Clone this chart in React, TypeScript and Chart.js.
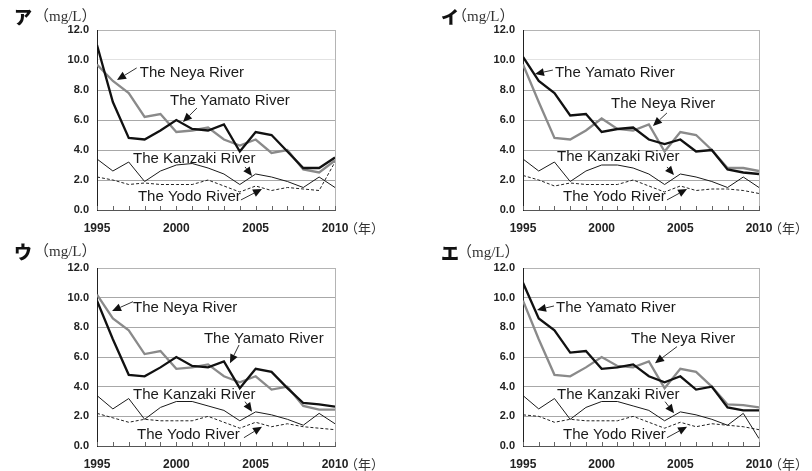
import React, { useEffect, useRef } from "react";
import { Chart, registerables } from "chart.js";
Chart.register(...registerables);

// ---- data ----
const years = [1995, 1996, 1997, 1998, 1999, 2000, 2001, 2002, 2003, 2004, 2005, 2006, 2007, 2008, 2009, 2010];
const yTickValues = [0, 2, 4, 6, 8, 10, 12];
const xLabelYears = [1995, 2000, 2005, 2010];

// Panel ア
const yamatoA = [11.0, 7.2, 4.8, 4.7, 5.3, 6.0, 5.4, 5.3, 5.7, 3.9, 5.2, 5.0, 3.9, 2.8, 2.8, 3.5];
const neyaA = [9.7, 8.6, 7.8, 6.2, 6.4, 5.2, 5.3, 5.5, 4.7, 4.3, 4.7, 3.8, 4.0, 2.7, 2.5, 3.3];
const kanzakiA = [3.4, 2.6, 3.2, 1.9, 2.6, 3.0, 3.1, 2.8, 2.4, 1.7, 2.4, 2.2, 1.9, 1.5, 2.2, 1.5];
const yodoA = [2.2, 2.0, 1.7, 1.8, 1.7, 1.7, 1.7, 2.0, 1.6, 1.2, 1.6, 1.3, 1.5, 1.4, 1.3, 3.2];
// Panel イ
const yamatoB = [10.2, 8.6, 7.8, 6.3, 6.4, 5.2, 5.4, 5.5, 4.7, 4.4, 4.7, 3.9, 4.0, 2.7, 2.5, 2.4];
const neyaB = [9.7, 7.2, 4.8, 4.7, 5.3, 6.1, 5.4, 5.3, 5.7, 3.9, 5.2, 5.0, 4.0, 2.8, 2.8, 2.6];
const kanzakiB = [3.4, 2.6, 3.2, 1.9, 2.6, 3.0, 3.0, 2.8, 2.4, 1.7, 2.4, 2.2, 1.9, 1.5, 2.2, 1.5];
const yodoB = [2.3, 2.0, 1.6, 1.8, 1.7, 1.7, 1.7, 2.0, 1.6, 1.2, 1.6, 1.3, 1.4, 1.4, 1.3, 1.1];
// Panel ウ
const yamatoC = [9.8, 7.2, 4.8, 4.7, 5.3, 6.0, 5.4, 5.3, 5.7, 3.9, 5.2, 5.0, 3.9, 2.9, 2.8, 2.65];
const neyaC = [10.2, 8.6, 7.8, 6.2, 6.4, 5.2, 5.3, 5.5, 4.7, 4.3, 4.7, 3.8, 4.0, 2.7, 2.45, 2.45];
const kanzakiC = [3.4, 2.5, 3.2, 1.8, 2.6, 3.0, 3.0, 2.7, 2.4, 1.7, 2.3, 2.1, 1.8, 1.4, 2.2, 1.5];
const yodoC = [2.2, 1.9, 1.6, 1.8, 1.7, 1.7, 1.7, 2.0, 1.6, 1.2, 1.6, 1.3, 1.5, 1.3, 1.2, 1.1];
// Panel エ
const yamatoD = [11.0, 8.6, 7.8, 6.3, 6.4, 5.2, 5.3, 5.5, 4.7, 4.3, 4.7, 3.8, 4.0, 2.6, 2.4, 2.4];
const neyaD = [9.8, 7.2, 4.8, 4.7, 5.3, 6.0, 5.4, 5.3, 5.7, 3.9, 5.2, 5.0, 4.0, 2.8, 2.75, 2.6];
const kanzakiD = [3.4, 2.5, 3.2, 1.8, 2.6, 3.0, 3.0, 2.7, 2.4, 1.7, 2.3, 2.1, 1.8, 1.4, 2.2, 0.5];
const yodoD = [2.1, 2.0, 1.6, 1.8, 1.7, 1.7, 1.7, 2.0, 1.6, 1.2, 1.6, 1.3, 1.5, 1.4, 1.3, 1.1];

const NEYA = "The Neya River";
const YAMATO = "The Yamato River";
const KANZAKI = "The Kanzaki River";
const YODO = "The Yodo River";

type Ann = { text: string; tx: number; ty: number; from: [number, number]; to: [number, number] };

const annsA: Ann[] = [
  { text: NEYA, tx: 1997.7, ty: 9.13, from: [1997.5, 9.47], to: [1996.26, 8.67] },
  { text: YAMATO, tx: 1999.6, ty: 7.27, from: [2001.3, 6.8], to: [2000.42, 5.87] },
  { text: KANZAKI, tx: 1997.27, ty: 3.4, from: [2004.33, 2.87], to: [2004.77, 2.27] },
  { text: YODO, tx: 1997.58, ty: 0.87, from: [2004.07, 0.67], to: [2005.4, 1.4] },
];
const annsB: Ann[] = [
  { text: YAMATO, tx: 1997.03, ty: 9.13, from: [1996.9, 9.33], to: [1995.76, 9.07] },
  { text: NEYA, tx: 2000.6, ty: 7.07, from: [2004.15, 6.47], to: [2003.26, 5.6] },
  { text: KANZAKI, tx: 1997.16, ty: 3.53, from: [2004.15, 2.87], to: [2004.6, 2.33] },
  { text: YODO, tx: 1997.54, ty: 0.87, from: [2004.15, 0.67], to: [2005.43, 1.4] },
];
const annsC: Ann[] = [
  { text: NEYA, tx: 1997.27, ty: 9.33, from: [1997.27, 9.73], to: [1995.95, 9.1] },
  { text: YAMATO, tx: 2001.74, ty: 7.21, from: [2003.95, 6.81], to: [2003.38, 5.58] },
  { text: KANZAKI, tx: 1997.27, ty: 3.48, from: [2004.33, 2.99], to: [2004.77, 2.31] },
  { text: YODO, tx: 1997.52, ty: 0.74, from: [2004.26, 0.56], to: [2005.4, 1.3] },
];
const annsD: Ann[] = [
  { text: YAMATO, tx: 1997.1, ty: 9.33, from: [1996.97, 9.44], to: [1995.89, 9.17] },
  { text: NEYA, tx: 2001.87, ty: 7.21, from: [2004.79, 6.7], to: [2003.39, 5.58] },
  { text: KANZAKI, tx: 1997.16, ty: 3.48, from: [2004.03, 2.99], to: [2004.6, 2.2] },
  { text: YODO, tx: 1997.54, ty: 0.74, from: [2004.15, 0.56], to: [2005.43, 1.3] },
];

type PanelCfg = {
  mark: string;
  left: number; top: number; w: number; h: number;
  plot: { l: number; t: number; r: number; b: number };
  markX: number; unitX: number; titleY: number;
  yamato: number[]; neya: number[]; kanzaki: number[]; yodo: number[];
  anns: Ann[];
  faint10: boolean;
};

const panels: PanelCfg[] = [
  { mark: "ア", left: 0, top: 0, w: 400, h: 235, plot: { l: 97, t: 30, r: 335, b: 210 }, markX: 14, unitX: 34, titleY: 16,
    yamato: yamatoA, neya: neyaA, kanzaki: kanzakiA, yodo: yodoA, anns: annsA, faint10: true },
  { mark: "イ", left: 400, top: 0, w: 412, h: 235, plot: { l: 123, t: 30, r: 359, b: 210 }, markX: 441, unitX: 452, titleY: 16,
    yamato: yamatoB, neya: neyaB, kanzaki: kanzakiB, yodo: yodoB, anns: annsB, faint10: true },
  { mark: "ウ", left: 0, top: 235, w: 400, h: 236, plot: { l: 97, t: 33, r: 335, b: 211 }, markX: 14, unitX: 34, titleY: 251,
    yamato: yamatoC, neya: neyaC, kanzaki: kanzakiC, yodo: yodoC, anns: annsC, faint10: false },
  { mark: "エ", left: 400, top: 235, w: 412, h: 236, plot: { l: 123, t: 33, r: 359, b: 211 }, markX: 441, unitX: 457, titleY: 252,
    yamato: yamatoD, neya: neyaD, kanzaki: kanzakiD, yodo: yodoD, anns: annsD, faint10: false },
];

const TICK_FONT = "'Liberation Sans Narrow', 'Liberation Sans', Arial, sans-serif";

function overlayPlugin(p: PanelCfg) {
  return {
    id: "overlay",
    afterDraw(chart: any) {
      const ctx = chart.ctx as CanvasRenderingContext2D;
      const xs = chart.scales.x;
      const ys = chart.scales.y;
      const ca = chart.chartArea;
      ctx.save();
      // right border
      ctx.strokeStyle = "#b4b4b4";
      ctx.lineWidth = 1;
      ctx.beginPath();
      ctx.moveTo(Math.round(ca.right) + 0.5, ca.top);
      ctx.lineTo(Math.round(ca.right) + 0.5, ca.bottom);
      ctx.stroke();
      // small year ticks inside bottom axis
      ctx.strokeStyle = "#666";
      for (const yr of years) {
        const x = Math.round(xs.getPixelForValue(yr)) + 0.5;
        ctx.beginPath();
        ctx.moveTo(x, ca.bottom);
        ctx.lineTo(x, ca.bottom - 4);
        ctx.stroke();
      }
      // (年)
      ctx.fillStyle = "#333";
      ctx.font = "13px 'Noto Sans CJK JP', sans-serif";
      ctx.textAlign = "left";
      ctx.textBaseline = "middle";
      ctx.fillText("（年）", xs.getPixelForValue(2010) + 10, ca.bottom + 18);
      // annotations
      ctx.font = "15px 'Liberation Sans', Arial, sans-serif";
      for (const a of p.anns) {
        ctx.fillStyle = "#1a1a1a";
        ctx.textAlign = "left";
        ctx.textBaseline = "middle";
        ctx.fillText(a.text, xs.getPixelForValue(a.tx), ys.getPixelForValue(a.ty));
        const x0 = xs.getPixelForValue(a.from[0]);
        const y0 = ys.getPixelForValue(a.from[1]);
        const x1 = xs.getPixelForValue(a.to[0]);
        const y1 = ys.getPixelForValue(a.to[1]);
        const ang = Math.atan2(y1 - y0, x1 - x0);
        const L = 9, W = 4;
        const bx = x1 - L * Math.cos(ang);
        const by = y1 - L * Math.sin(ang);
        ctx.strokeStyle = "#333";
        ctx.lineWidth = 1;
        ctx.beginPath();
        ctx.moveTo(x0, y0);
        ctx.lineTo(bx, by);
        ctx.stroke();
        ctx.fillStyle = "#111";
        ctx.beginPath();
        ctx.moveTo(x1, y1);
        ctx.lineTo(bx + W * Math.sin(ang), by - W * Math.cos(ang));
        ctx.lineTo(bx - W * Math.sin(ang), by + W * Math.cos(ang));
        ctx.closePath();
        ctx.fill();
      }
      ctx.restore();
    },
  };
}

function Panel({ p }: { p: PanelCfg }) {
  const ref = useRef<HTMLCanvasElement>(null);
  useEffect(() => {
    const canvas = ref.current!;
    const mk = (arr: number[]) => arr.map((v, i) => ({ x: years[i], y: v }));
    const chart = new Chart(canvas, {
      type: "line",
      data: {
        datasets: [
          { label: YAMATO, data: mk(p.yamato), borderColor: "#111", borderWidth: 2.3, pointRadius: 0, tension: 0 },
          { label: NEYA, data: mk(p.neya), borderColor: "#8a8a8a", borderWidth: 2.3, pointRadius: 0, tension: 0 },
          { label: KANZAKI, data: mk(p.kanzaki), borderColor: "#1a1a1a", borderWidth: 1, pointRadius: 0, tension: 0 },
          { label: YODO, data: mk(p.yodo), borderColor: "#222", borderWidth: 1, borderDash: [3, 2], pointRadius: 0, tension: 0 },
        ],
      },
      options: {
        animation: false,
        responsive: false,
        maintainAspectRatio: false,
        layout: { padding: { left: 0, top: p.plot.t, right: p.w - p.plot.r, bottom: 0 } },
        plugins: { legend: { display: false }, tooltip: { enabled: false } },
        scales: {
          x: {
            type: "linear",
            min: 1995,
            max: 2010,
            afterFit: (s: any) => { s.height = p.h - p.plot.b; },
            afterBuildTicks: (s: any) => { s.ticks = xLabelYears.map((v) => ({ value: v })); },
            ticks: { autoSkip: false, maxRotation: 0, padding: 11, color: "#222", font: { family: TICK_FONT, size: 12, weight: "bold" }, callback: (v: any) => String(v) },
            grid: { display: false, drawTicks: false },
            border: { display: true, color: "#555", width: 1 },
          },
          y: {
            min: 0,
            max: 12,
            afterFit: (s: any) => { s.width = p.plot.l; },
            afterBuildTicks: (s: any) => { s.ticks = yTickValues.map((v) => ({ value: v })); },
            ticks: { padding: 8, color: "#222", font: { family: TICK_FONT, size: 11, weight: "bold" }, callback: (v: any) => Number(v).toFixed(1) },
            grid: {
              drawTicks: false,
              color: (c: any) => {
                const v = c.tick ? c.tick.value : -1;
                if (v === 0) return "rgba(0,0,0,0)";
                if (v === 10 && p.faint10) return "#e2e2e2";
                if (v === 12) return "#b4b4b4";
                return "#a8a8a8";
              },
            },
            border: { display: true, color: "#222", width: 1 },
          },
        },
      } as any,
      plugins: [overlayPlugin(p)],
    });
    return () => chart.destroy();
  }, []);
  return (
    <canvas
      ref={ref}
      width={p.w}
      height={p.h}
      style={{ position: "absolute", left: p.left, top: p.top, width: p.w, height: p.h }}
    />
  );
}

export default function App() {
  return (
    <div style={{ position: "fixed", left: 0, top: 0, width: 812, height: 471, background: "#fff", overflow: "hidden" }}>
      {panels.map((p, i) => (
        <Panel key={i} p={p} />
      ))}
      {panels.map((p, i) => (
        <React.Fragment key={"t" + i}>
          <div style={{ position: "absolute", left: p.markX, top: p.titleY - 10, height: 20, lineHeight: "20px", fontFamily: "'Noto Sans CJK JP', sans-serif", fontWeight: 900, fontSize: 18, color: "#111" }}>
            {p.mark}
          </div>
          <div style={{ position: "absolute", left: p.unitX, top: p.titleY - 10, height: 20, lineHeight: "20px", fontFamily: "'Liberation Serif', 'Noto Sans CJK JP', serif", fontSize: 15, color: "#333" }}>
            （mg/L）
          </div>
        </React.Fragment>
      ))}
    </div>
  );
}
